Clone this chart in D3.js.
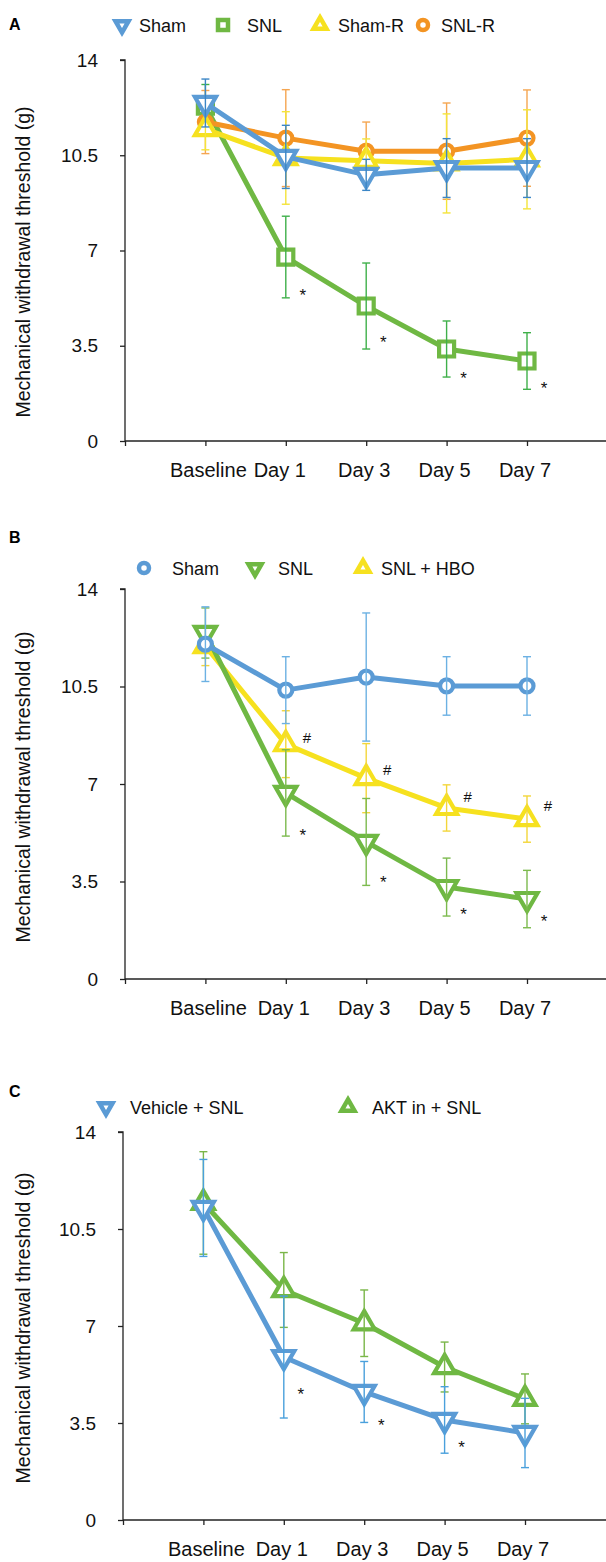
<!DOCTYPE html>
<html>
<head>
<meta charset="utf-8">
<script src="https://cdn.jsdelivr.net/npm/d3@7"></script>
<style>
  html, body { margin: 0; padding: 0; background: #fff; }
  svg { display: block; font-family: "Liberation Sans", Arial, sans-serif; }
</style>
</head>
<body>
<svg id="chart" width="606" height="1562"></svg>
<script>
// ---------- DATA ----------
const days = ["Baseline", "Day 1", "Day 3", "Day 5", "Day 7"];
const yTicks = [0, 3.5, 7, 10.5, 14];
const yLabel = "Mechanical withdrawal threshold (g)";

// Panel A
const shamA = [12.42, 10.44, 9.78, 10.03, 10.03];
const shamAErr = [0.88, 1.16, 0.57, 1.08, 1.08];
const snlA = [12.3, 6.76, 4.96, 3.38, 2.94];
const snlAErr = [0.8, 1.5, 1.58, 1.03, 1.04];
const shamRA = [11.46, 10.4, 10.3, 10.2, 10.35];
const shamRAErr = [0.76, 1.7, 0.8, 1.82, 1.82];
const snlRA = [11.72, 11.13, 10.65, 10.65, 11.13];
const snlRAErr = [1.16, 1.78, 1.07, 1.77, 1.77];
const starsA = [[1, 5.48], [2, 3.75], [3, 2.43], [4, 2.06]];

// Panel B
const shamB = [12.02, 10.37, 10.84, 10.52, 10.52];
const shamBErr = [1.34, 1.2, 2.3, 1.05, 1.05];
const snlB = [12.42, 6.68, 4.92, 3.3, 2.87];
const snlBErr = [0.9, 1.55, 1.56, 1.04, 1.03];
const hboB = [11.95, 8.43, 7.21, 6.14, 5.74];
const hboBErr = [0.7, 1.2, 1.24, 0.83, 0.83];
const starsB = [[1, 5.28], [2, 3.59], [3, 2.44], [4, 2.19]];
const hashB = [[1, 8.69], [2, 7.54], [3, 6.57], [4, 6.25]];

// Panel C
const vehC = [11.26, 5.88, 4.62, 3.61, 3.14];
const vehCErr = [1.75, 2.2, 1.1, 1.2, 1.25];
const aktC = [11.44, 8.3, 7.1, 5.52, 4.37];
const aktCErr = [1.85, 1.35, 1.2, 0.9, 0.9];
const starsC = [[1, 4.66], [2, 3.54], [3, 2.74]];

// ---------- STYLE / LAYOUT ----------
const BLUE = "#5b9bd5", GREEN = "#6fb843", YELLOW = "#f6e11f", ORANGE = "#f39423";

const panels = [
  {
    letter: "A", letterY: 30, top: 60, bottom: 441, left: 125, labelMid: 262,
    legendY: 25,
    series: [
      { name: "SNL", vals: snlA, err: snlAErr, color: GREEN, errColor: "#3fb04a", shape: "square", lx: 223, tx: 247 },
      { name: "SNL-R", vals: snlRA, err: snlRAErr, color: ORANGE, errColor: "#f5a651", shape: "circle", lx: 423, tx: 441 },
      { name: "Sham-R", vals: shamRA, err: shamRAErr, color: YELLOW, errColor: "#f4e43a", shape: "up", lx: 320, tx: 338 },
      { name: "Sham", vals: shamA, err: shamAErr, color: BLUE, errColor: "#3b86c6", shape: "down", lx: 122, tx: 139 }
    ],
    stars: starsA, hashes: []
  },
  {
    letter: "B", letterY: 543, top: 589, bottom: 979, left: 125, labelMid: 787,
    legendY: 568,
    series: [
      { name: "SNL + HBO", vals: hboB, err: hboBErr, color: YELLOW, errColor: "#f3d63a", shape: "up", lx: 363, tx: 381 },
      { name: "SNL", vals: snlB, err: snlBErr, color: GREEN, errColor: "#7cba4e", shape: "down", lx: 255, tx: 278 },
      { name: "Sham", vals: shamB, err: shamBErr, color: BLUE, errColor: "#6cb1e3", shape: "circle", lx: 144, tx: 172 }
    ],
    stars: starsB, hashes: hashB
  },
  {
    letter: "C", letterY: 1097, top: 1132, bottom: 1520, left: 123, labelMid: 1328,
    legendY: 1107,
    series: [
      { name: "AKT in + SNL", vals: aktC, err: aktCErr, color: GREEN, errColor: "#7ab648", shape: "up", lx: 348, tx: 372 },
      { name: "Vehicle + SNL", vals: vehC, err: vehCErr, color: BLUE, errColor: "#4aa0dc", shape: "down", lx: 106, tx: 130 }
    ],
    stars: starsC, hashes: []
  }
];

const svg = d3.select("#chart");

function markerPath(shape, s) {
  if (shape === "square") {
    const h = s / 2;
    return `M${-h},${-h}H${h}V${h}H${-h}Z`;
  }
  if (shape === "circle") {
    return d3.symbol(d3.symbolCircle, Math.PI * (s / 2) * (s / 2))();
  }
  const h = s * Math.sqrt(3) / 2;
  if (shape === "up") {
    return `M0,${-2 * h / 3}L${s / 2},${h / 3}L${-s / 2},${h / 3}Z`;
  }
  return `M0,${2 * h / 3}L${s / 2},${-h / 3}L${-s / 2},${-h / 3}Z`;
}

const plotSize = { square: 15, circle: 13, up: 21, down: 21 };
const legSize = { square: 10, circle: 10, up: 13, down: 13 };

panels.forEach(p => {
  const g = svg.append("g");
  const x = d3.scaleLinear().domain([0, 6]).range([p.left, p.left + 6 * 80.4]);
  const y = d3.scaleLinear().domain([0, 14]).range([p.bottom, p.top]);

  g.append("text").attr("x", 9).attr("y", p.letterY)
    .attr("font-size", 16).attr("font-weight", "bold").attr("fill", "#000")
    .text(p.letter);

  const yAxis = d3.axisLeft(y).tickValues(yTicks).tickSize(5).tickPadding(22)
    .tickFormat(d => String(d));
  const ya = g.append("g").attr("transform", `translate(${p.left},0)`).call(yAxis);
  ya.select(".domain").attr("stroke", "#222").attr("stroke-width", 1.3)
    .attr("d", `M-5,${p.top}H0V${p.bottom}`);
  ya.selectAll(".tick line").attr("stroke", "#222").attr("stroke-width", 1.3);
  ya.selectAll(".tick text").attr("font-size", 19).attr("fill", "#111")
    .attr("font-family", "'Liberation Sans', Arial, sans-serif");

  const xAxis = d3.axisBottom(x).tickValues([0, 1, 2, 3, 4, 5]).tickSize(5).tickFormat("");
  const xa = g.append("g").attr("transform", `translate(0,${p.bottom})`).call(xAxis);
  xa.select(".domain").attr("stroke", "#222").attr("stroke-width", 1.3)
    .attr("d", `M${p.left},0H606`);
  xa.selectAll(".tick line").attr("stroke", "#222").attr("stroke-width", 1.3);

  days.forEach((d, i) => {
    g.append("text").attr("x", x(i + 1) + (i === 0 ? 3 : (i === 1 && p.letter === "A" ? -6 : -2)))
      .attr("y", p.bottom + 36)
      .attr("text-anchor", "middle").attr("font-size", 20).attr("fill", "#111")
      .text(d);
  });

  g.append("text")
    .attr("transform", `translate(30,${p.labelMid}) rotate(-90)`)
    .attr("text-anchor", "middle").attr("font-size", 19.5).attr("fill", "#111")
    .text(yLabel);

  const line = d3.line().x((d, i) => x(i + 1)).y(d => y(d));
  p.series.forEach(s => {
    const sg = g.append("g");
    sg.append("path").datum(s.vals).attr("d", line)
      .attr("fill", "none").attr("stroke", s.color).attr("stroke-width", 5)
      .attr("stroke-linejoin", "round");
    sg.selectAll(".mk").data(s.vals).join("path")
      .attr("transform", (d, i) => `translate(${x(i + 1)},${y(d)})`)
      .attr("d", markerPath(s.shape, plotSize[s.shape]))
      .attr("fill", "#fff").attr("stroke", s.color).attr("stroke-width", 4.2);
    const eg = sg.append("g").attr("stroke", s.errColor).attr("stroke-width", 1.4);
    s.vals.forEach((v, i) => {
      const cx = x(i + 1), y1 = y(v + s.err[i]), y2 = y(v - s.err[i]);
      eg.append("line").attr("x1", cx).attr("x2", cx).attr("y1", y1).attr("y2", y2);
      eg.append("line").attr("x1", cx - 4).attr("x2", cx + 4).attr("y1", y1).attr("y2", y1);
      eg.append("line").attr("x1", cx - 4).attr("x2", cx + 4).attr("y1", y2).attr("y2", y2);
    });
    g.append("path").attr("transform", `translate(${s.lx},${p.legendY})`)
      .attr("d", markerPath(s.shape, legSize[s.shape]))
      .attr("fill", "#fff").attr("stroke", s.color).attr("stroke-width", 4.5);
    g.append("text").attr("x", s.tx).attr("y", p.legendY + 6.5)
      .attr("font-size", 18).attr("fill", "#111").text(s.name);
  });

  p.stars.forEach(([i, v]) => {
    g.append("text").attr("x", x(i + 1) + 17).attr("y", y(v) + 9)
      .attr("text-anchor", "middle").attr("font-size", 17).attr("fill", "#111").text("*");
  });
  p.hashes.forEach(([i, v]) => {
    g.append("text").attr("x", x(i + 1) + 21).attr("y", y(v) + 6)
      .attr("text-anchor", "middle").attr("font-size", 15).attr("fill", "#111").text("#");
  });
});
</script>
</body>
</html>
